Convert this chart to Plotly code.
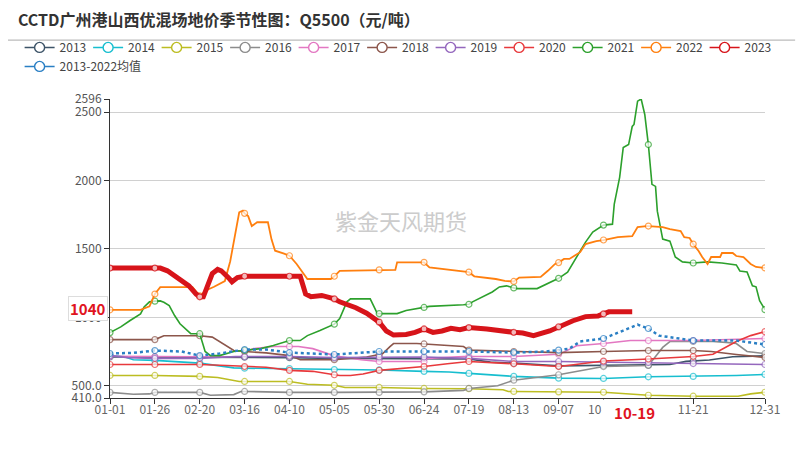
import plotly.graph_objects as go

# day index (0 = 01-01, 365 = 12-31, leap year calendar) and values
d2013 = [0, 25, 50, 75, 100, 125, 150, 175, 189, 200, 212, 225, 250, 275, 300, 312, 321, 325, 334, 347, 365]
v2013 = [710, 710, 710, 708, 705, 700, 700, 700, 700, 695, 672, 665, 645, 648, 650, 655, 678, 680, 688, 712, 718]

d2014 = [0, 8, 13, 25, 50, 69, 75, 100, 125, 150, 175, 189, 200, 225, 250, 275, 300, 325, 349, 365]
v2014 = [720, 712, 690, 685, 665, 630, 628, 625, 618, 615, 605, 600, 590, 568, 555, 553, 565, 568, 575, 582]

d2015 = [0, 25, 50, 60, 72, 75, 100, 110, 125, 131, 150, 175, 200, 219, 222, 225, 250, 275, 300, 325, 350, 357, 365]
v2015 = [575, 575, 568, 560, 531, 531, 531, 510, 503, 487, 487, 480, 478, 470, 458, 458, 455, 452, 430, 423, 423, 440, 452]

d2016 = [0, 8, 13, 22, 25, 50, 56, 69, 73, 75, 100, 125, 150, 175, 197, 200, 216, 221, 225, 234, 250, 256, 262, 275,
         288, 300, 305, 308, 312, 325, 336, 345, 349, 355, 365]
v2016 = [451, 440, 437, 440, 451, 451, 430, 435, 458, 458, 451, 451, 451, 455, 466, 480, 500, 520, 540, 555, 580, 595, 610, 640,
         645, 648, 730, 780, 823, 823, 823, 815, 808, 750, 735]

d2017 = [0, 25, 50, 73, 76, 80, 91, 100, 105, 113, 124, 125, 140, 150, 175, 177, 197, 200, 225, 250, 252, 260, 275, 290, 300, 325, 365]
v2017 = [715, 712, 712, 713, 750, 771, 786, 786, 786, 771, 720, 718, 690, 677, 677, 700, 713, 713, 713, 730, 740, 792, 808, 830, 830, 830, 845]

d2018 = [0, 25, 30, 50, 57, 65, 69, 75, 87, 100, 106, 125, 143, 150, 152, 156, 158, 171, 175, 197, 200, 225, 250, 275, 300, 325,
         335, 349, 358, 365]
v2018 = [837, 837, 865, 865, 855, 792, 757, 750, 740, 720, 690, 690, 710, 728, 735, 786, 808, 808, 805, 786, 760, 750, 742, 750, 757, 757,
         750, 728, 715, 706]

d2019 = [0, 10, 25, 50, 70, 75, 100, 125, 150, 175, 200, 215, 225, 250, 275, 300, 325, 365]
v2019 = [720, 705, 700, 700, 713, 713, 713, 705, 710, 710, 700, 685, 677, 677, 672, 670, 662, 655]

d2020 = [0, 25, 50, 65, 75, 87, 100, 113, 125, 128, 134, 141, 150, 169, 175, 188, 200, 225, 250, 256, 275, 300, 325, 336, 344,
         349, 357, 365]
v2020 = [655, 655, 655, 648, 640, 635, 612, 605, 580, 575, 575, 585, 612, 630, 640, 660, 677, 660, 640, 650, 680, 695, 713, 730, 786,
         823, 866, 895]

d2021 = [0, 6, 11, 17, 19, 22, 25, 28, 30, 33, 36, 39, 45, 50, 52, 53, 56, 61, 69, 75, 84, 91, 100, 106, 110, 117, 124, 125, 128,
         132, 134, 145, 149, 150, 160, 165, 175, 178, 197, 200, 202, 208, 213, 217, 221, 225, 227, 238, 241, 249, 250, 255, 262,
         265, 269, 275, 280, 281, 284, 286, 289, 291, 292, 294, 296, 298, 300, 302, 304, 305, 308, 312, 315, 319, 325, 333, 341,
         349, 351, 355, 358, 360, 362, 365]
v2021 = [888, 930, 975, 1025, 1075, 1113, 1118, 1120, 1110, 1085, 1013, 953, 880, 880, 794, 750, 720, 720, 750, 758, 771, 794,
         830, 830, 866, 903, 940, 950, 990, 1113, 1135, 1135, 1027, 1027, 1027, 1050, 1072, 1080, 1092, 1095, 1113, 1150, 1185,
         1222, 1230, 1215, 1210, 1210, 1230, 1280, 1285, 1330, 1485, 1550, 1623, 1674, 1681, 1827, 2023, 2241, 2263, 2395, 2410,
         2580, 2596, 2483, 2263, 1972, 1957, 1776, 1572, 1557, 1441, 1405, 1397, 1405, 1397, 1383, 1339, 1332, 1230, 1223, 1121,
         1056]

d2022 = [0, 17, 22, 25, 28, 46, 50, 54, 58, 64, 67, 70, 72, 74, 75, 77, 79, 82, 88, 90, 92, 97, 100, 104, 110, 123, 125, 128,
         150, 159, 160, 175, 178, 195, 200, 203, 215, 220, 225, 228, 240, 244, 248, 250, 253, 256, 262, 265, 271, 275, 283, 291,
         294, 299, 300, 308, 312, 318, 320, 323, 325, 328, 330, 333, 335, 340, 341, 347, 349, 353, 357, 360, 365]
v2022 = [1055, 1055, 1080, 1170, 1220, 1220, 1157, 1200, 1223, 1265, 1410, 1622, 1768, 1780, 1760, 1740, 1667, 1695, 1695, 1570,
         1487, 1465, 1450, 1390, 1280, 1280, 1300, 1340, 1347, 1347, 1402, 1402, 1365, 1340, 1330, 1300, 1280, 1266, 1262, 1290,
         1295, 1340, 1390, 1400, 1427, 1427, 1476, 1535, 1557, 1565, 1586, 1593, 1659, 1667, 1667, 1659, 1645, 1630, 1586, 1580,
         1535, 1485, 1441, 1390, 1441, 1441, 1470, 1470, 1448, 1440, 1390, 1368, 1361]

d2023 = [0, 25, 28, 32, 36, 40, 44, 48, 50, 52, 55, 57, 60, 62, 66, 68, 71, 75, 100, 106, 109, 112, 118, 125, 128, 133, 137, 143,
         150, 154, 158, 165, 170, 175, 180, 185, 190, 195, 200, 210, 220, 225, 230, 236, 245, 250, 258, 265, 272, 275, 278, 291]
v2023 = [1360, 1360, 1360, 1340, 1300, 1260, 1230, 1170, 1150, 1150, 1250, 1320, 1350, 1340, 1290, 1260, 1290, 1300, 1300, 1300,
         1170, 1150, 1160, 1135, 1113, 1090, 1070, 1030, 965, 900, 870, 875, 890, 915, 890, 900, 920, 910, 925, 915, 895, 890,
         885, 865, 900, 930, 975, 1005, 1010, 1025, 1040, 1040]

d_mean = [0, 13, 25, 40, 50, 61, 75, 87, 100, 113, 125, 150, 175, 200, 225, 243, 250, 256, 262, 275, 286, 294, 300, 306, 325,
          349, 365]
v_mean = [735, 740, 757, 750, 720, 735, 764, 764, 742, 735, 728, 750, 750, 750, 742, 750, 760, 771, 823, 845, 903, 946, 918, 866,
          830, 830, 801]

tick_days = [0, 25, 50, 75, 100, 125, 150, 175, 200, 225, 250, 275, 300, 325, 365]
tick_text = ['01-01', '01-26', '02-20', '03-16', '04-10', '05-05', '05-30', '06-24', '07-19', '08-13', '09-07',
             '10-02', '', '11-21', '12-31']
y_ticks = [410, 500, 1000, 1500, 2000, 2500, 2596]
y_text = ['410.0', '500.0', '1000', '1500', '2000', '2500', '2596']

series = [
    ('2013', d2013, v2013, '#3d5468', 1.6, 'solid'),
    ('2014', d2014, v2014, '#17becf', 1.6, 'solid'),
    ('2015', d2015, v2015, '#bcbd22', 1.6, 'solid'),
    ('2016', d2016, v2016, '#8c8c8c', 1.6, 'solid'),
    ('2017', d2017, v2017, '#e377c2', 1.6, 'solid'),
    ('2018', d2018, v2018, '#8c564b', 1.6, 'solid'),
    ('2019', d2019, v2019, '#9467bd', 1.6, 'solid'),
    ('2020', d2020, v2020, '#e8393c', 1.6, 'solid'),
    ('2021', d2021, v2021, '#2ca02c', 1.6, 'solid'),
    ('2022', d2022, v2022, '#ff7f0e', 1.8, 'solid'),
    ('2023', d2023, v2023, '#d7141a', 5, 'solid'),
    ('2013-2022均值', d_mean, v_mean, '#2a7fc4', 2.5, 'dot'),
]

FONT = 'Noto Sans CJK SC'
fig = go.Figure()

# legend-only entries
for name, d, v, color, width, dash in series:
    fig.add_trace(go.Scatter(
        x=[None], y=[None], mode='lines+markers', name=name, legendgroup=name,
        line=dict(color=color, width=1.5),
        marker=dict(size=10, color='white', line=dict(color=color, width=1.4)),
    ))

draw_order = series[:10] + [series[11], series[10]]
for name, d, v, color, width, dash in draw_order:
    sizes = [6 if i in tick_days else 0 for i in d]
    fig.add_trace(go.Scatter(
        x=d, y=v, mode='lines+markers', name=name, legendgroup=name, showlegend=False,
        line=dict(color=color, width=width, dash=dash),
        marker=dict(size=sizes, color='white', line=dict(color=color, width=1.2)),
        hoverinfo='x+y+name',
    ))

# page has an 8px body margin, so the figure is a bit smaller than the window
fig.update_layout(
    width=798, height=452,
    margin=dict(l=102, r=41, t=91, b=62, autoexpand=False),
    paper_bgcolor='white', plot_bgcolor='white',
    font=dict(family=FONT, size=12, color='#555'),
    title=dict(text='<b>CCTD广州港山西优混场地价季节性图：Q5500（元/吨）</b>',
               x=0.0125, xanchor='left', y=0.973, yanchor='middle', yref='container',
               font=dict(family=FONT, size=16, color='#333')),
    legend=dict(orientation='h', x=-0.138, xanchor='left', y=1.221, yanchor='top',
                entrywidth=23.5, font=dict(family=FONT, size=12, color='#444'),
                bgcolor='rgba(0,0,0,0)', tracegroupgap=0),
    xaxis=dict(range=[0, 365], tickvals=tick_days, ticktext=tick_text, showgrid=False, zeroline=False,
               showline=True, linecolor='#333', linewidth=1, ticks='outside', ticklen=5, tickcolor='#333',
               ticklabelstandoff=-4,
               tickfont=dict(family=FONT, size=12, color='#666')),
    yaxis=dict(range=[410, 2596], tickvals=y_ticks, ticktext=y_text, showgrid=True, gridcolor='#d0d0d0',
               zeroline=False, showline=True, linecolor='#333', linewidth=1, ticks='outside', ticklen=5,
               tickcolor='#333', tickfont=dict(family=FONT, size=12, color='#555')),
    showlegend=True,
)

# rule under the title
fig.add_shape(type='line', xref='paper', yref='paper', x0=-0.156, x1=1.046, y0=1.197, y1=1.197,
              line=dict(color='#aaaaaa', width=1))

# watermark
fig.add_annotation(text='紫金天风期货', xref='paper', yref='paper', x=0.445, y=0.595, showarrow=False,
                   font=dict(family=FONT, size=22, color='#cccccc'))

# pointer labels
fig.add_annotation(text='<b>1040</b>', xref='paper', yref='y', x=-0.003, y=1040, yshift=3, xanchor='right',
                   showarrow=False, font=dict(family=FONT, size=15, color='#e0141e'),
                   bgcolor='white', bordercolor='#dddddd', borderwidth=1, borderpad=1)
fig.add_annotation(text='&nbsp;&nbsp;&nbsp;<b>10-19</b>&nbsp;&nbsp;&nbsp;', xref='x', yref='paper', x=292, y=-0.047,
                   yanchor='middle', showarrow=False, font=dict(family=FONT, size=15, color='#e0141e'),
                   bgcolor='white', borderpad=2)

fig.write_html('out.html')
